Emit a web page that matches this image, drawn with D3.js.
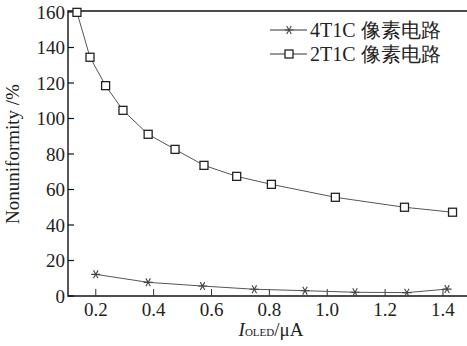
<!DOCTYPE html>
<html><head><meta charset="utf-8">
<script src="https://cdn.jsdelivr.net/npm/d3@7"></script>
<style>body{margin:0;background:#fff}svg{display:block}</style>
</head><body>
<svg id="c" width="467" height="346"></svg>
<script>
const seriesNames = ["4T1C 像素电路", "2T1C 像素电路"];
const x4T1C = [0.2, 0.381, 0.569, 0.748, 0.923, 1.096, 1.275, 1.414];
const y4T1C = [12.2, 7.7, 5.6, 3.8, 3.0, 2.1, 1.9, 3.9];
const x2T1C = [0.135, 0.180, 0.234, 0.294, 0.381, 0.474, 0.574, 0.687, 0.807, 1.028, 1.267, 1.433];
const y2T1C = [159.8, 134.5, 118.5, 104.6, 91.1, 82.6, 73.6, 67.4, 62.9, 55.6, 50.0, 47.2];
const xTicks = [0.2, 0.4, 0.6, 0.8, 1.0, 1.2, 1.4];
const yTicks = [0, 20, 40, 60, 80, 100, 120, 140, 160];

(function () {
const svg = d3.select("#c");
const pl = 68, pr = 467, pt = 12, pb = 296;
const x = d3.scaleLinear().domain([0.104, 1.483]).range([pl, pr]);
const y = d3.scaleLinear().domain([0, 160]).range([pb, pt]);
const font = "'Liberation Serif','Times New Roman',serif";

// axes lines
svg.append("line").attr("x1", pl).attr("x2", pr).attr("y1", pt - 1).attr("y2", pt - 1).attr("stroke", "#111").attr("stroke-width", 1.4);
svg.append("line").attr("x1", pl).attr("x2", pr).attr("y1", pb).attr("y2", pb).attr("stroke", "#111").attr("stroke-width", 1.4);
svg.append("line").attr("x1", pl).attr("x2", pl).attr("y1", pt - 1.7).attr("y2", pb + 0.7).attr("stroke", "#111").attr("stroke-width", 1.4);

// y ticks
const yAxis = svg.append("g");
yTicks.forEach(t => {
  yAxis.append("line").attr("x1", pl).attr("x2", pl + 6).attr("y1", y(t)).attr("y2", y(t)).attr("stroke", "#111").attr("stroke-width", 1.2);
  yAxis.append("text").attr("x", pl - 3).attr("y", y(t)).attr("dy", "0.35em").attr("text-anchor", "end")
    .attr("font-family", font).attr("font-size", 19).attr("fill", "#222").text(t);
});
// x ticks
const xAxis = svg.append("g");
xTicks.forEach(t => {
  xAxis.append("line").attr("x1", x(t)).attr("x2", x(t)).attr("y1", pb).attr("y2", pb - 7).attr("stroke", "#333").attr("stroke-width", 1);
  xAxis.append("text").attr("x", x(t)).attr("y", 316).attr("text-anchor", "middle")
    .attr("font-family", font).attr("font-size", 19).attr("fill", "#222").text(d3.format(".1f")(t));
});

// axis titles
svg.append("text").attr("transform", "translate(19,154) rotate(-90)").attr("text-anchor", "middle")
  .attr("font-family", font).attr("font-size", 19).attr("fill", "#222").text("Nonuniformity /%");
const xl = svg.append("text").attr("x", 271).attr("y", 336).attr("text-anchor", "middle")
  .attr("font-family", font).attr("font-size", 19).attr("fill", "#222");
xl.append("tspan").attr("font-style", "italic").text("I");
xl.append("tspan").attr("font-size", 11).text("OLED");
xl.append("tspan").text("/μA");

const line = d3.line().x(d => x(d[0])).y(d => y(d[1]));
const d4 = x4T1C.map((v, i) => [v, y4T1C[i]]);
const d2 = x2T1C.map((v, i) => [v, y2T1C[i]]);

svg.append("path").attr("d", line(d4)).attr("fill", "none").attr("stroke", "#555").attr("stroke-width", 1);
svg.append("path").attr("d", line(d2)).attr("fill", "none").attr("stroke", "#555").attr("stroke-width", 1);

const star = d3.symbol().type(d3.symbolAsterisk).size(58);
svg.append("g").selectAll("path").data(d4).join("path")
  .attr("transform", d => `translate(${x(d[0])},${y(d[1])}) rotate(90)`)
  .attr("d", star).attr("fill", "none").attr("stroke", "#444").attr("stroke-width", 1.1);

svg.append("g").selectAll("rect").data(d2).join("rect")
  .attr("x", d => x(d[0]) - 4).attr("y", d => y(d[1]) - 4).attr("width", 8).attr("height", 8)
  .attr("fill", "#fff").attr("stroke", "#222").attr("stroke-width", 1.3);

// legend
const lg = svg.append("g");
[0, 1].forEach(i => {
  const ly = 30 + i * 24;
  lg.append("line").attr("x1", 270).attr("x2", 307).attr("y1", ly).attr("y2", ly).attr("stroke", "#333").attr("stroke-width", 1);
  if (i === 0) {
    lg.append("path").attr("transform", `translate(289,${ly}) rotate(90)`).attr("d", star).attr("fill", "none").attr("stroke", "#444").attr("stroke-width", 1.1);
  } else {
    lg.append("rect").attr("x", 285).attr("y", ly - 4).attr("width", 8).attr("height", 8).attr("fill", "#fff").attr("stroke", "#222").attr("stroke-width", 1.3);
  }
  lg.append("text").attr("x", 310).attr("y", ly).attr("dy", "0.35em").attr("font-family", font).attr("font-size", 20).attr("fill", "#222").text(seriesNames[i]);
});
})();
</script>
</body></html>
